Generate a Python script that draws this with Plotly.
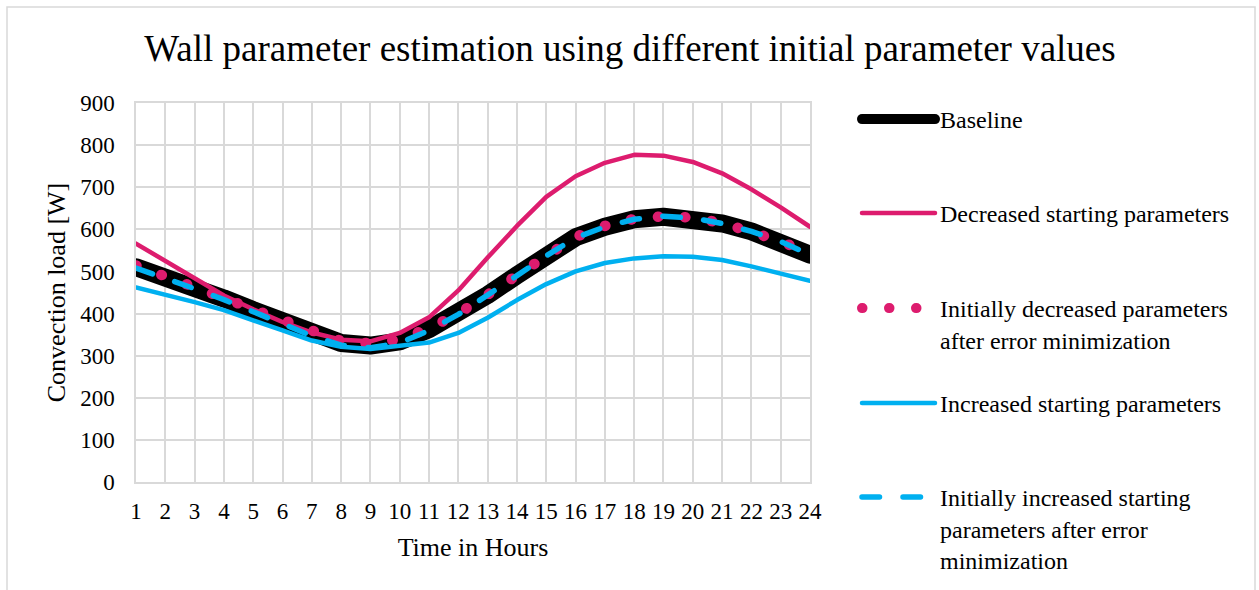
import plotly.graph_objects as go

# Hourly convection load [W] for the wall model runs
hours = list(range(1, 25))
baseline = [510, 489, 463, 436, 408, 381, 353, 330, 324, 334, 363, 399,
            444, 491, 538, 581, 606, 624, 630, 626, 614, 595, 571, 540]
decreased = [566, 525, 484, 443, 410, 380, 355, 338, 334, 354, 391, 455,
             533, 608, 677, 726, 758, 777, 775, 760, 733, 695, 652, 606]
init_decreased = [514, 490, 463, 437, 410, 384, 357, 335, 329, 339, 365, 400,
                  445, 492, 539, 582, 608, 625, 631, 628, 615, 596, 572, 542]
increased = [462, 445, 427, 408, 385, 360, 336, 321, 316, 323, 331, 354,
             390, 432, 470, 500, 520, 531, 536, 535, 527, 512, 496, 478]
init_increased = [508, 485, 459, 433, 404, 376, 347, 325, 319, 330, 360, 398,
                  443, 490, 537, 580, 606, 624, 631, 627, 614, 595, 571, 540]

series_names = [
    "Baseline",
    "Decreased starting parameters",
    "Initially decreased parameters<br>after error minimization",
    "Increased starting parameters",
    "Initially increased starting<br>parameters after error<br>minimization",
]
y_ticks = list(range(0, 901, 100))

PINK = "#DD1C6E"
CYAN = "#00B0F0"
GRID = "#D9D9D9"
FONT = "Liberation Serif"

fig = go.Figure()

styles = [
    dict(color="black", width=18),
    dict(color=PINK, width=4.5),
    dict(color=PINK, width=10.5, dash="0.5px,26.5px"),
    dict(color=CYAN, width=4.5),
    dict(color=CYAN, width=5.5, dash="17.5px,23.5px"),
]
values = [baseline, decreased, init_decreased, increased, init_increased]
legend_ids = ["legend", "legend2", "legend3", "legend4", "legend5"]

for name, vals, st, lg in zip(series_names, values, styles, legend_ids):
    fig.add_trace(go.Scatter(
        x=hours, y=vals, mode="lines", name=name,
        line=st, legend=lg, showlegend=True,
    ))

# one legend box per series so the entries are evenly spaced down the right side
legend_centers = [120, 214, 309, 404, 498]
W, H = 1259, 590
legend_common = dict(
    xref="container", yref="container", xanchor="left", yanchor="top",
    font=dict(family=FONT, size=24, color="black"),
    itemwidth=73, valign="top", bgcolor="rgba(0,0,0,0)", borderwidth=0,
    itemclick=False, itemdoubleclick=False, visible=True,
)
legend_layout = {}
for lg, cy in zip(legend_ids, legend_centers):
    legend_layout[lg] = dict(legend_common, x=857 / W, y=1 - (cy - 23) / H)

fig.update_layout(
    width=W, height=H,
    showlegend=True,
    margin=dict(l=136, r=449, t=103, b=108),
    paper_bgcolor="white", plot_bgcolor="white",
    font=dict(family=FONT, color="black"),
    title=dict(
        text="Wall parameter estimation using different initial parameter values",
        font=dict(family=FONT, size=37, color="black"),
        xref="container", yref="container", x=630 / W, y=1 - 48 / H,
        xanchor="center", yanchor="middle",
    ),
    xaxis=dict(
        range=[1, 24], tickmode="array", tickvals=hours,
        ticktext=[str(h) for h in hours],
        showgrid=True, gridcolor=GRID, gridwidth=1.5,
        showline=True, mirror=True, linecolor=GRID, linewidth=1.5,
        zeroline=False, ticks="", ticklabelstandoff=8,
        tickfont=dict(family=FONT, size=23, color="black"),
        title=dict(text="Time in Hours", standoff=14,
                   font=dict(family=FONT, size=26, color="black")),
        fixedrange=True,
    ),
    yaxis=dict(
        range=[0, 900], tickmode="array", tickvals=y_ticks,
        showgrid=True, gridcolor=GRID, gridwidth=1.5,
        showline=True, mirror=True, linecolor=GRID, linewidth=1.5,
        zeroline=False, ticks="", ticklabelstandoff=15,
        tickfont=dict(family=FONT, size=23, color="black"),
        title=dict(text="Convection load [W]", standoff=7,
                   font=dict(family=FONT, size=26, color="black")),
        fixedrange=True,
    ),
    shapes=[dict(
        type="rect", xref="paper", yref="paper",
        x0=(7 - 136) / 674, x1=(1255 - 136) / 674,
        y0=(482 - 600) / 379, y1=(482 - 7) / 379,
        line=dict(color=GRID, width=1.5), fillcolor="rgba(0,0,0,0)", layer="below",
    )],
    **legend_layout,
)

# rounded caps give the dotted series round dots and soften the dash ends
post_js = """
var gd = document.getElementById('{plot_id}');
function roundCaps() {
  gd.querySelectorAll('path.js-line').forEach(function (p) {
    p.style.strokeLinecap = 'round';
    p.style.strokeLinejoin = 'round';
  });
}
roundCaps();
gd.on('plotly_afterplot', roundCaps);
"""

fig.write_html("out.html", config={"displayModeBar": False}, post_script=post_js)
